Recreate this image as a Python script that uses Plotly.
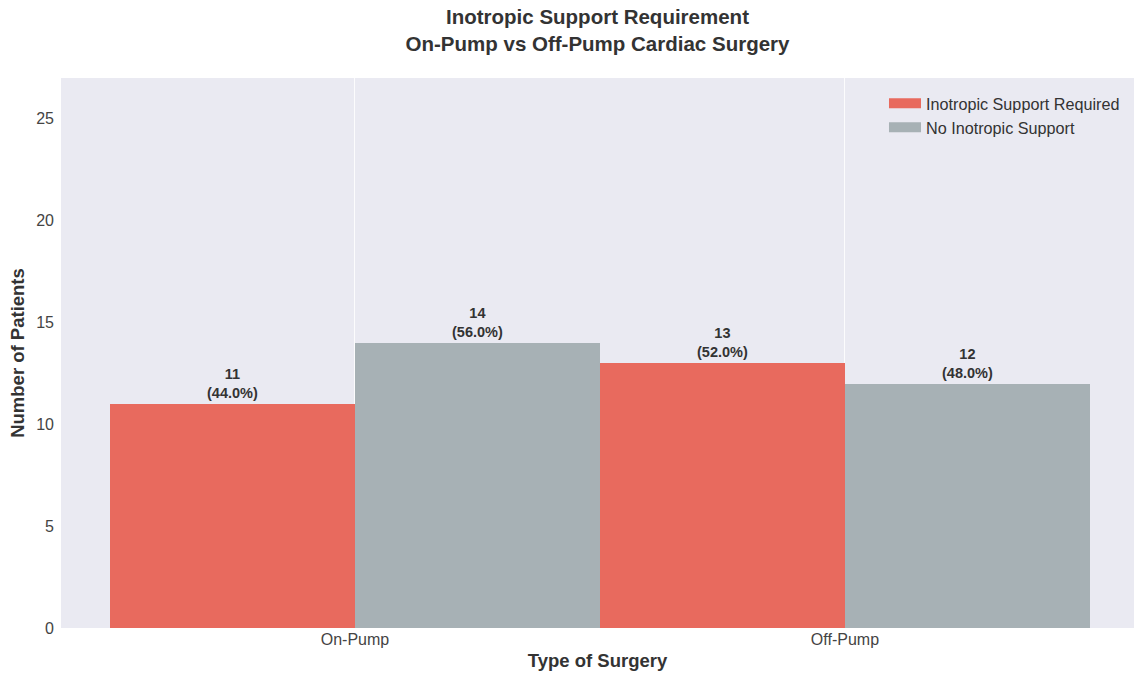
import plotly.graph_objects as go

# Patient counts by surgery type
surgery_types = ["On-Pump", "Off-Pump"]
inotropic_required = [11, 13]
no_inotropic = [14, 12]
series_names = ["Inotropic Support Required", "No Inotropic Support"]
y_ticks = [0, 5, 10, 15, 20, 25]

RED = "#E86A5E"
GRAY = "#A7B1B5"
BG = "#EAEAF2"
FONT = "Liberation Sans, Arial, sans-serif"

totals = [a + b for a, b in zip(inotropic_required, no_inotropic)]


def labels(values):
    return [f"<b>{v}</b><br><b>({v / t * 100:.1f}%)</b>" for v, t in zip(values, totals)]


fig = go.Figure()
for name, vals, color in [
    (series_names[0], inotropic_required, RED),
    (series_names[1], no_inotropic, GRAY),
]:
    fig.add_trace(go.Bar(
        x=surgery_types, y=vals, name=name,
        marker=dict(color=color, line=dict(width=0)),
        text=labels(vals), textposition="outside",
        textfont=dict(family=FONT, size=14.5, color="#333333"),
        cliponaxis=False, showlegend=False,
    ))
    # legend entry drawn as a wide swatch
    fig.add_trace(go.Scatter(
        x=[None], y=[None], mode="lines", name=name,
        line=dict(color=color, width=11),
    ))

fig.update_layout(
    width=1134, height=677,
    paper_bgcolor="white", plot_bgcolor=BG,
    margin=dict(l=61, r=0, t=78, b=49),
    barmode="group", bargap=0, bargroupgap=0,
    font=dict(family=FONT, size=16, color="#444444"),
    title=dict(
        text="<b>Inotropic Support Requirement</b><br><b>On-Pump vs Off-Pump Cardiac Surgery</b>",
        x=0.5, xref="paper", xanchor="center", y=0.964, yanchor="middle",
        font=dict(family=FONT, size=20.5, color="#333333"),
    ),
    legend=dict(
        x=0.767, xanchor="left", y=0.985, yanchor="top",
        bgcolor="rgba(0,0,0,0)", font=dict(family=FONT, size=16.2, color="#333333"),
        tracegroupgap=0, itemwidth=32,
    ),
)
fig.update_xaxes(
    range=[-0.6, 1.59], showgrid=True, gridcolor="rgba(255,255,255,0.85)", gridwidth=1,
    zeroline=False, showline=False, ticks="",
    tickfont=dict(family=FONT, size=16, color="#444444"),
    title=dict(text="<b>Type of Surgery</b>", font=dict(family=FONT, size=18.5, color="#333333"), standoff=7),
)
fig.update_yaxes(
    range=[0, 27], tickvals=y_ticks, showgrid=False, zeroline=False, showline=False, ticks="",
    ticklabelstandoff=6,
    tickfont=dict(family=FONT, size=16, color="#444444"),
    title=dict(text="<b>Number of Patients</b>", font=dict(family=FONT, size=18.5, color="#333333"), standoff=6),
)

fig.write_html("out.html")
